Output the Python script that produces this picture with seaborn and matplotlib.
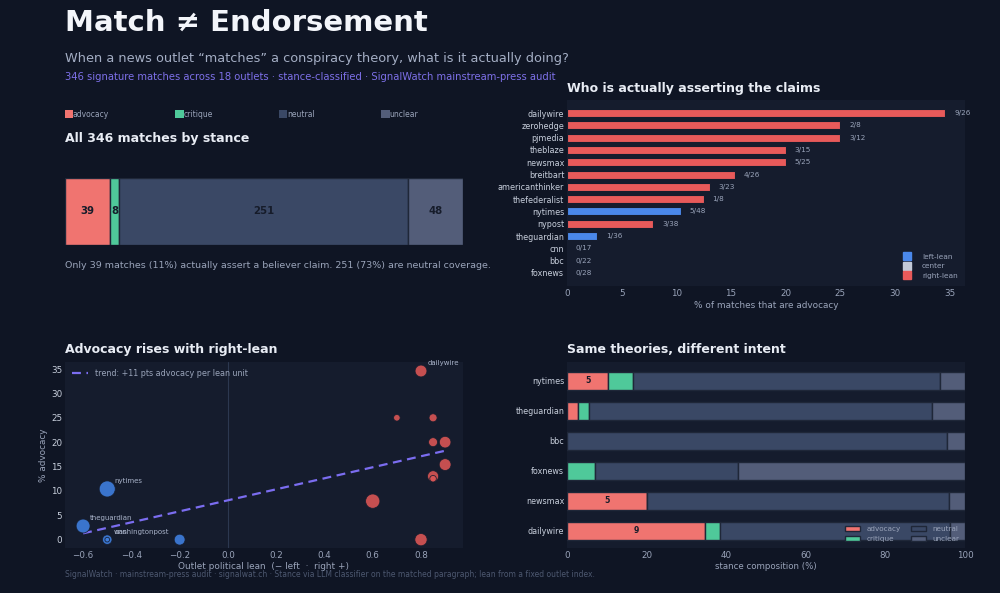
import numpy as np
import pandas as pd
import matplotlib.pyplot as plt
from matplotlib.patches import Patch
from matplotlib.lines import Line2D
import seaborn as sns

# ---- data ----
stances = ['advocacy', 'critique', 'neutral', 'unclear']
stance_totals = [39, 8, 251, 48]

bar_outlets = ['dailywire', 'zerohedge', 'pjmedia', 'theblaze', 'newsmax', 'breitbart',
               'americanthinker', 'thefederalist', 'nytimes', 'nypost', 'theguardian',
               'cnn', 'bbc', 'foxnews']
bar_adv = [9, 2, 3, 3, 5, 4, 3, 1, 5, 3, 1, 0, 0, 0]
bar_n = [26, 8, 12, 15, 25, 26, 23, 8, 48, 38, 36, 17, 22, 28]
bar_lean = ['right-lean'] * 8 + ['left-lean', 'right-lean', 'left-lean', 'left-lean', 'center', 'right-lean']

sc_outlets = ['nytimes', 'theguardian', 'cnn', 'washingtonpost', 'bbc', 'nypost', 'foxnews',
              'dailywire', 'zerohedge', 'pjmedia', 'theblaze', 'newsmax', 'breitbart',
              'americanthinker', 'thefederalist']
sc_lean = [-0.5, -0.6, -0.5, -0.5, -0.2, 0.6, 0.8, 0.8, 0.7, 0.85, 0.85, 0.9, 0.9, 0.85, 0.85]
sc_adv_pct = [10.4, 2.8, 0, 0, 0, 7.9, 0, 34.6, 25, 25, 20, 20, 15.4, 13.0, 12.5]
sc_n = [48, 36, 17, 4, 22, 38, 28, 26, 8, 12, 15, 25, 26, 23, 8]
sc_labelled = ['dailywire', 'nytimes', 'theguardian', 'cnn', 'washingtonpost']

comp_outlets = ['nytimes', 'theguardian', 'bbc', 'foxnews', 'newsmax', 'dailywire']
comp_advocacy = [5, 1, 0, 0, 5, 9]
comp_critique = [3, 1, 0, 2, 0, 1]
comp_neutral = [37, 31, 21, 10, 19, 15]
comp_unclear = [3, 3, 1, 16, 1, 1]

# ---- style ----
BG = '#0f1524'
PANEL = '#151c2d'
TXT = '#e8ecf4'
MUTED = '#9aa4ba'
GRIDC = '#263046'
STANCE_COL = {'advocacy': '#f07470', 'critique': '#4fc99a', 'neutral': '#3a4865', 'unclear': '#535d79'}
LEAN_COL = {'left-lean': '#4a88ea', 'center': '#c3cad8', 'right-lean': '#e85a5a'}
PURPLE = '#7b6df0'
TICK_FS = 6.3

sns.set_theme(style='dark')
plt.rcParams.update({
    'font.family': ['DejaVu Sans'],
    'figure.facecolor': BG,
    'axes.facecolor': PANEL,
    'axes.edgecolor': GRIDC,
    'axes.labelcolor': MUTED,
    'xtick.color': MUTED,
    'ytick.color': '#c8cfdc',
    'text.color': TXT,
    'axes.titlecolor': TXT,
})

fig = plt.figure(figsize=(10, 5.93), dpi=100)

fig.text(0.065, 0.962, 'Match \u2260 Endorsement', fontsize=21, fontweight='bold',
         color='#f3f5fa', va='center')
fig.text(0.065, 0.902, 'When a news outlet \u201cmatches\u201d a conspiracy theory, what is it actually doing?',
         fontsize=9.3, color='#a4aec4', va='center')
fig.text(0.065, 0.870, '346 signature matches across 18 outlets \u00b7 stance-classified \u00b7 SignalWatch mainstream-press audit',
         fontsize=7.2, color='#7d70e8', va='center')
fig.text(0.065, 0.032, 'SignalWatch \u00b7 mainstream-press audit \u00b7 signalwat.ch \u00b7 Stance via LLM classifier on the matched paragraph; lean from a fixed outlet index.',
         fontsize=5.5, color='#4d5870', va='center')

# stance legend row
handles = [Patch(facecolor=STANCE_COL[s], edgecolor='none', label=s) for s in stances]
fig.legend(handles=handles, loc='lower left', bbox_to_anchor=(0.0615, 0.795, 0.36, 0.02),
           ncol=4, mode='expand', frameon=False, fontsize=5.5, handlelength=1.1,
           handleheight=1.2, handletextpad=0.0, labelcolor=MUTED, borderaxespad=0)

# ---- panel 1: overall stacked bar ----
ax1 = fig.add_axes([0.065, 0.587, 0.398, 0.113])
ax1.set_facecolor(BG)
left = 0
for s, v in zip(stances, stance_totals):
    ax1.barh([0], [v], left=left, height=1.0, color=STANCE_COL[s], edgecolor='#1f2738', linewidth=1)
    ax1.text(left + v / 2, 0, str(v), ha='center', va='center', fontsize=7.3,
             fontweight='bold', color='#161c2a')
    left += v
ax1.set_xlim(0, sum(stance_totals))
ax1.set_ylim(-0.5, 0.5)
ax1.axis('off')
ax1.set_title('All 346 matches by stance', loc='left', fontsize=9, fontweight='bold', pad=26)
total = sum(stance_totals)
ax1.text(0, -0.8, f'Only {stance_totals[0]} matches ({stance_totals[0] / total:.0%}) actually assert a believer claim. '
         f'{stance_totals[2]} ({stance_totals[2] / total:.0%}) are neutral coverage.',
         transform=ax1.transData, fontsize=6.8, color=MUTED, va='center')

# ---- panel 2: advocacy share by outlet ----
ax2 = fig.add_axes([0.567, 0.5177, 0.398, 0.3137])
df2 = pd.DataFrame({'outlet': bar_outlets, 'adv': bar_adv, 'n': bar_n, 'lean': bar_lean})
df2['pct'] = 100 * df2['adv'] / df2['n']
sns.barplot(data=df2, y='outlet', x='pct', hue='lean', order=bar_outlets,
            hue_order=['left-lean', 'center', 'right-lean'], palette=LEAN_COL, saturation=1,
            dodge=False, width=0.65, ax=ax2, legend=False, edgecolor=PANEL, linewidth=0.8)
for i, row in df2.iterrows():
    ax2.text(row['pct'] + 0.8, i, f"{row['adv']}/{row['n']}", va='center', fontsize=5.2, color=MUTED)
ax2.set_xlim(0, 36.4)
ax2.set_ylim(len(bar_outlets) - 1 + 1.06, -1.06)
ax2.set_xticks(np.arange(0, 36, 5))
ax2.set_xlabel('% of matches that are advocacy', fontsize=6.4, labelpad=2)
ax2.set_ylabel('')
ax2.tick_params(axis='x', labelsize=TICK_FS, length=0, pad=2)
ax2.tick_params(axis='y', labelsize=5.8, length=0, pad=2)
ax2.set_title('Who is actually asserting the claims', loc='left', fontsize=9, fontweight='bold', pad=6)
lh = [Line2D([], [], marker='s', linestyle='', markersize=6, color=LEAN_COL[k], label=k)
      for k in ['left-lean', 'center', 'right-lean']]
ax2.legend(handles=lh, loc='lower right', frameon=False, fontsize=5.3, labelcolor=MUTED,
           handletextpad=1.0, labelspacing=0.45, borderaxespad=0.6)
for sp in ax2.spines.values():
    sp.set_visible(False)

# ---- panel 3: scatter lean vs advocacy ----
ax3 = fig.add_axes([0.065, 0.076, 0.398, 0.314])
df3 = pd.DataFrame({'outlet': sc_outlets, 'lean': sc_lean, 'pct': sc_adv_pct, 'n': sc_n})
df3['side'] = np.where(df3['lean'] < 0, 'left', 'right')
ax3.axvline(0, color='#2c3850', lw=0.8, zorder=0)
sns.scatterplot(data=df3, x='lean', y='pct', hue='side', palette={'left': '#3f7fdf', 'right': '#d95555'},
                s=df3['n'] * 2.8, alpha=0.9, edgecolor=PANEL, linewidth=0.6, ax=ax3, legend=False, zorder=3)
slope, icpt = np.polyfit(df3['lean'], df3['pct'], 1)
xs = np.array([df3['lean'].min(), df3['lean'].max()])
ax3.plot(xs, icpt + slope * xs, ls='--', color=PURPLE, lw=1.6, dashes=(4, 2.5),
         label=f'trend: +{slope:.0f} pts advocacy per lean unit', zorder=2)
for _, row in df3[df3['outlet'].isin(sc_labelled)].iterrows():
    ax3.annotate(row['outlet'], (row['lean'], row['pct']), xytext=(5, 4), textcoords='offset points',
                 fontsize=5.0, color='#a8b2c8')
ax3.set_xlim(-0.675, 0.974)
ax3.set_ylim(-1.7, 36.5)
ax3.set_yticks(np.arange(0, 36, 5))
ax3.set_xlabel('Outlet political lean  (\u2212 left  \u00b7  right +)', fontsize=6.4, labelpad=2)
ax3.set_ylabel('% advocacy', fontsize=6.4, labelpad=2)
ax3.tick_params(axis='both', labelsize=TICK_FS, length=0, pad=2)
ax3.legend(loc='upper left', frameon=False, fontsize=5.8, labelcolor=MUTED, handlelength=2.0)
ax3.set_title('Advocacy rises with right-lean', loc='left', fontsize=9, fontweight='bold', pad=6)
for sp in ax3.spines.values():
    sp.set_visible(False)

# ---- panel 4: stance composition per outlet ----
ax4 = fig.add_axes([0.567, 0.076, 0.398, 0.314])
df4 = pd.DataFrame({'outlet': comp_outlets, 'advocacy': comp_advocacy, 'critique': comp_critique,
                    'neutral': comp_neutral, 'unclear': comp_unclear}).set_index('outlet')
pct4 = df4.div(df4.sum(axis=1), axis=0) * 100
ypos = np.arange(len(comp_outlets))
left = np.zeros(len(comp_outlets))
for s in stances:
    ax4.barh(ypos, pct4[s].values, left=left, height=0.6, color=STANCE_COL[s],
             edgecolor='#1f2738', linewidth=1, label=s)
    if s == 'advocacy':
        for y, p, c in zip(ypos, pct4[s].values, df4[s].values):
            if p >= 8:
                ax4.text(p / 2, y, str(c), ha='center', va='center', fontsize=5.6,
                         fontweight='bold', color='#161c2a')
    left += pct4[s].values
ax4.set_yticks(ypos)
ax4.set_yticklabels(comp_outlets)
ax4.set_ylim(len(comp_outlets) - 1 + 0.57, -0.63)
ax4.set_xlim(0, 100)
ax4.set_xticks(np.arange(0, 101, 20))
ax4.set_xlabel('stance composition (%)', fontsize=6.2, labelpad=2)
ax4.tick_params(axis='x', labelsize=TICK_FS, length=0, pad=2)
ax4.tick_params(axis='y', labelsize=5.8, length=0, pad=2)
ax4.legend(loc='lower right', ncol=2, fontsize=5.2, labelcolor=MUTED, frameon=False,
           handlelength=2.2, handletextpad=0.8, borderaxespad=0.4, columnspacing=1.4, labelspacing=0.5)
ax4.set_title('Same theories, different intent', loc='left', fontsize=9, fontweight='bold', pad=6)
for sp in ax4.spines.values():
    sp.set_visible(False)

fig.savefig('out.png', dpi=100, facecolor=BG)
